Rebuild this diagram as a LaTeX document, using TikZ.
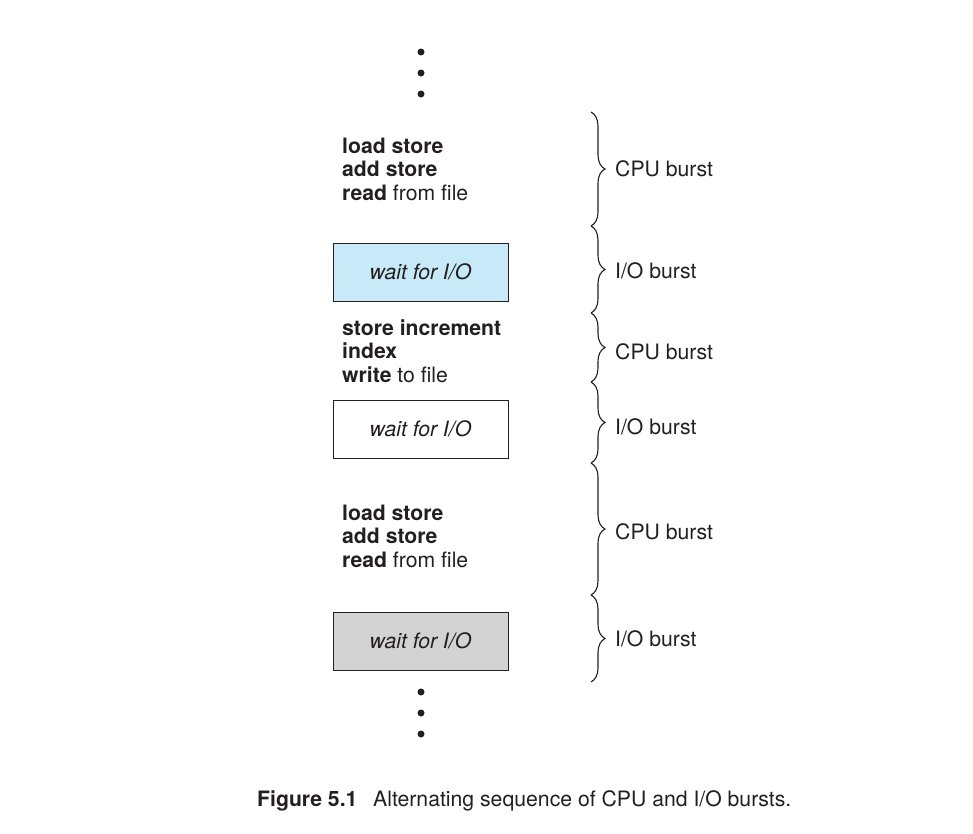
\documentclass[tikz,border=0pt]{standalone}
\usepackage{fontspec}
\setmainfont{TeX Gyre Heros}
\usetikzlibrary{decorations.pathreplacing}
\definecolor{ink}{HTML}{231F20}
\definecolor{boxblue}{HTML}{C8E9F8}
\definecolor{boxgray}{HTML}{D3D3D3}
\begin{document}
\begin{tikzpicture}[x=1pt,y=-1pt,
  txt/.style={inner sep=0pt,text=ink,font=\fontsize{21.2}{23.5}\selectfont},
  code/.style={txt,align=left,anchor=west},
  waitbox/.style={draw=ink,line width=1pt,minimum width=175pt,minimum height=58pt,inner sep=0pt,text=ink,font=\fontsize{21.2}{23.5}\selectfont\itshape},
  burst/.style={txt,anchor=west},
  brc/.style={draw=ink,line width=1.1pt,decorate,decoration={brace,amplitude=14pt}},
  dot/.style={circle,fill=ink,inner sep=0pt,minimum size=7pt}]
\useasboundingbox (0,0) rectangle (973,833);
% dots
\node[dot] (t1) at (421,52) {};
\node[dot] (t2) at (421,73) {};
\node[dot] (t3) at (421,94) {};
\node[dot] (b1) at (421,692) {};
\node[dot] (b2) at (421,713) {};
\node[dot] (b3) at (421,734) {};
% code blocks
\node[code] (c1) at (342,169) {\textbf{load store}\\\textbf{add store}\\\textbf{read} from file};
\node[waitbox,fill=boxblue] (w1) at (420.5,272) {wait for I/O};
\node[code] (c2) at (342,351) {\textbf{store increment}\\\textbf{index}\\\textbf{write} to file};
\node[waitbox,fill=white] (w2) at (420.5,429) {wait for I/O};
\node[code] (c3) at (342,536) {\textbf{load store}\\\textbf{add store}\\\textbf{read} from file};
\node[waitbox,fill=boxgray] (w3) at (420.5,641) {wait for I/O};
% braces
\coordinate (y0) at (591,112);
\coordinate (y1) at (591,226);
\coordinate (y2) at (591,313);
\coordinate (y3) at (591,382);
\coordinate (y4) at (591,463);
\coordinate (y5) at (591,595);
\coordinate (y6) at (591,682);
\draw[brc] (y0) -- (y1);
\draw[brc] (y1) -- (y2);
\draw[brc] (y2) -- (y3);
\draw[brc] (y3) -- (y4);
\draw[brc] (y4) -- (y5);
\draw[brc] (y5) -- (y6);
% labels
\node[burst] (l1) at (615,169) {CPU burst};
\node[burst] (l2) at (615,271) {I/O burst};
\node[burst] (l3) at (615,352) {CPU burst};
\node[burst] (l4) at (615,427) {I/O burst};
\node[burst] (l5) at (615,532) {CPU burst};
\node[burst] (l6) at (615,639) {I/O burst};
% caption
\node[txt,anchor=base west] (fig) at (257,806) {\textbf{Figure 5.1}};
\node[txt,anchor=base west] (cap) at (373,806) {Alternating sequence of CPU and I/O bursts.};
\end{tikzpicture}
\end{document}
